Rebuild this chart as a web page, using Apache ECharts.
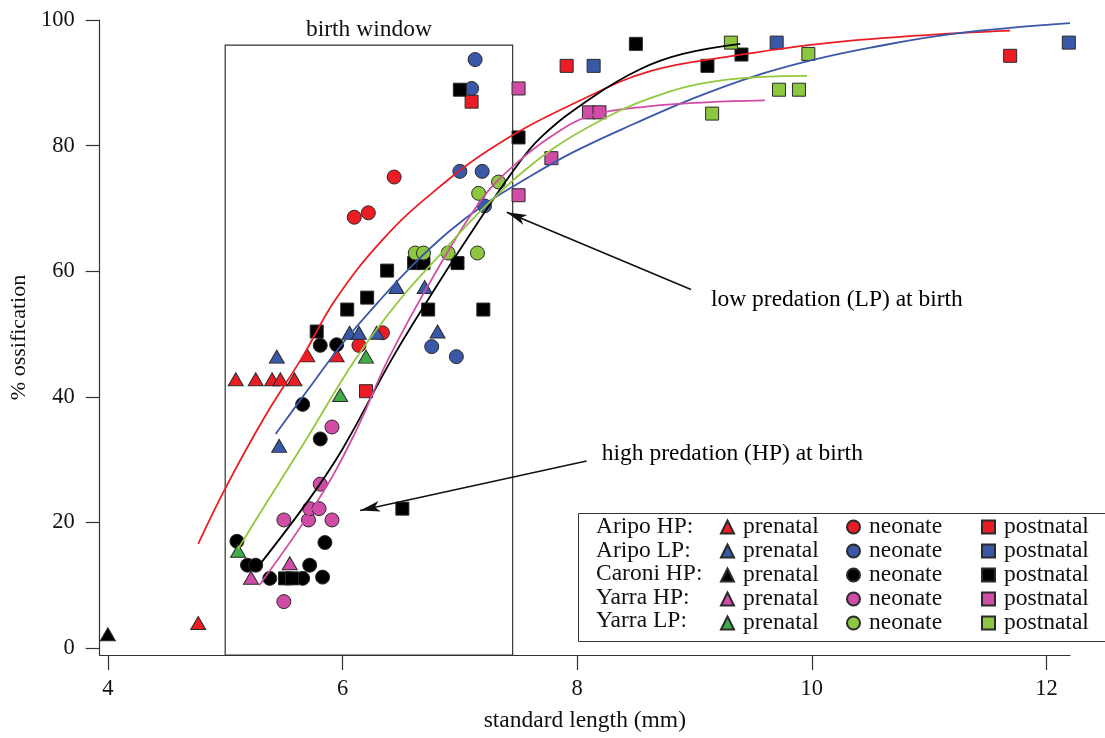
<!DOCTYPE html>
<html>
<head>
<meta charset="utf-8">
<script src="https://cdn.jsdelivr.net/npm/echarts@6/dist/echarts.min.js"></script>
<style>
  html, body { margin: 0; padding: 0; background: #fff; }
  #chart { width: 1105px; height: 738px; }
</style>
</head>
<body>
<div id="chart"></div>
<script>
// Axis tick labels
const xTicks = [4, 6, 8, 10, 12];
const yTicks = [0, 20, 40, 60, 80, 100];

// Observations: [standard length (mm), % ossification]
const aripoHP_prenatal  = [[5.09,42.8],[5.26,42.8],[5.40,42.8],[5.47,42.8],[5.59,42.8],[5.70,46.6],[5.95,46.6],[4.77,4.0]];
const aripoHP_neonate   = [[6.44,75.0],[6.10,68.6],[6.22,69.3],[6.34,50.2],[6.14,48.2]];
const aripoHP_postnatal = [[6.20,40.9],[7.10,87.0],[7.91,92.7],[11.69,94.3]];

const aripoLP_prenatal  = [[5.44,46.4],[5.46,32.2],[6.06,50.2],[6.14,50.2],[6.29,50.2],[6.46,57.5],[6.70,57.5],[6.81,50.4]];
const aripoLP_neonate   = [[6.76,48.0],[6.97,46.4],[7.00,75.9],[7.19,75.9],[7.21,70.4],[7.13,93.7],[7.10,89.1]];
const aripoLP_postnatal = [[8.14,92.7],[9.70,96.4],[12.19,96.4]];

const caroniHP_prenatal  = [[4.00,2.2]];
const caroniHP_neonate   = [[5.10,17.0],[5.19,13.2],[5.26,13.2],[5.38,11.1],[5.66,11.1],[5.72,13.2],[5.83,11.3],[5.85,16.8],[5.66,38.8],[5.81,33.3],[5.81,48.2],[5.95,48.3]];
const caroniHP_postnatal = [[5.51,11.1],[5.57,11.1],[5.78,50.4],[6.04,53.9],[6.21,55.8],[6.38,60.1],[6.61,61.3],[6.69,61.3],[6.98,61.3],[6.73,53.9],[7.20,53.9],[6.51,22.2],[7.00,88.9],[7.50,81.3],[8.50,96.2],[9.11,92.7],[9.40,94.5]];

const yarraHP_prenatal  = [[5.22,11.2],[5.55,13.5]];
const yarraHP_neonate   = [[5.50,20.4],[5.71,20.4],[5.72,22.2],[5.80,22.2],[5.91,20.4],[5.81,26.1],[5.91,35.2],[5.50,7.4]];
const yarraHP_postnatal = [[7.50,89.1],[7.50,72.1],[7.78,78.0],[8.10,85.3],[8.19,85.3]];

const yarraLP_prenatal  = [[5.11,15.5],[5.98,40.3],[6.20,46.4]];
const yarraLP_neonate   = [[6.62,62.9],[6.69,62.9],[6.90,62.9],[7.15,62.9],[7.16,72.4],[7.33,74.2]];
const yarraLP_postnatal = [[9.31,96.4],[9.97,94.6],[9.72,88.9],[9.89,88.9],[9.15,85.1]];

// Fitted growth curves
const aripoHP_curve  = [[4.77,16.6],[5.0,25.4],[5.34,36.9],[5.66,46.4],[5.94,55.5],[6.34,65.0],[6.76,72.4],[7.33,80.3],[8.06,87.5],[8.63,91.9],[9.3,94.2],[10.07,96.2],[10.9,97.5],[11.69,98.3]];
const aripoLP_curve  = [[5.43,34.1],[5.7,41.0],[6.0,48.5],[6.3,55.0],[6.6,61.0],[6.9,66.2],[7.2,70.5],[7.5,74.0],[7.95,78.8],[8.5,83.6],[9.0,87.6],[9.5,91.0],[10.0,93.6],[10.5,95.6],[11.2,97.8],[12.2,99.5]];
const caroniHP_curve = [[5.29,13.2],[5.72,23.8],[6.0,31.7],[6.42,46.0],[6.73,55.5],[7.07,65.4],[7.44,75.6],[7.69,81.3],[8.12,87.6],[8.54,92.2],[8.9,94.6],[9.39,96.2]];
const yarraHP_curve  = [[5.29,10.0],[5.80,23.8],[6.11,34.4],[6.39,46.0],[6.79,59.7],[7.18,71.3],[7.44,76.5],[7.78,81.5],[8.12,84.8],[8.63,86.3],[9.1,86.9],[9.6,87.2]];
const yarraLP_curve  = [[5.11,15.8],[5.32,22.2],[5.7,33.5],[6.11,46.0],[6.49,55.5],[6.85,63.0],[7.21,70.2],[7.69,78.1],[8.1,83.0],[8.63,87.6],[9.2,90.3],[9.96,91.1]];

const groups = [
  { label: 'Aripo HP:',  color: '#ec1c24', triColor: '#ec1c24', lineColor: '#ec1c24', pts: [aripoHP_prenatal, aripoHP_neonate, aripoHP_postnatal], curve: aripoHP_curve },
  { label: 'Aripo LP:',  color: '#3a58a8', triColor: '#3a58a8', lineColor: '#3a58a8', pts: [aripoLP_prenatal, aripoLP_neonate, aripoLP_postnatal], curve: aripoLP_curve },
  { label: 'Caroni HP:', color: '#000000', triColor: '#000000', lineColor: '#000000', pts: [caroniHP_prenatal, caroniHP_neonate, caroniHP_postnatal], curve: caroniHP_curve },
  { label: 'Yarra HP:',  color: '#d04ca6', triColor: '#d04ca6', lineColor: '#d04ca6', pts: [yarraHP_prenatal, yarraHP_neonate, yarraHP_postnatal], curve: yarraHP_curve },
  { label: 'Yarra LP:',  color: '#8dc63f', triColor: '#3fae49', lineColor: '#93c83e', pts: [yarraLP_prenatal, yarraLP_neonate, yarraLP_postnatal], curve: yarraLP_curve }
];
const stages = ['prenatal', 'neonate', 'postnatal'];
const stageSymbols = ['triangle', 'circle', 'rect'];
const stageSizes = [[15, 13], 14, 13];

// Caption positions for the two arrows, in data units
const notes = [
  { text: 'low predation (LP) at birth',  at: [9.14, 55.5], from: [8.97, 57.1], to: [7.40, 69.4] },
  { text: 'high predation (HP) at birth', at: [8.21, 30.9], from: [8.08, 29.8], to: [6.15, 21.9] }
];

const FONT = '"Liberation Serif", "DejaVu Serif", serif';
const INK = '#111';

const series = [];
const legendNames = [[], [], []];
groups.forEach(g => {
  g.pts.forEach((pts, si) => {
    const name = g.label.replace(':', '') + ' ' + stages[si];
    legendNames[si].push(name);
    series.push({
      name,
      type: 'scatter',
      data: pts,
      symbol: stageSymbols[si],
      symbolSize: stageSizes[si],
      z: 2,
      itemStyle: { color: si === 0 ? g.triColor : g.color, borderColor: '#2a2a2a', borderWidth: 1, opacity: 1 },
      emphasis: { disabled: true }
    });
  });
});
groups.forEach(g => {
  series.push({
    name: g.label + ' fit',
    type: 'line',
    data: g.curve,
    smooth: 0.4,
    showSymbol: false,
    z: 3,
    lineStyle: { color: g.lineColor, width: 1.8 },
    emphasis: { disabled: true },
    silent: true
  });
});

// Birth window box, arrows and their captions
series.push({
  name: 'notes',
  type: 'scatter',
  symbolSize: 0,
  z: 4,
  silent: true,
  itemStyle: { color: INK, opacity: 1 },
  data: notes.map(n => ({ name: n.text, value: n.at })),
  label: {
    show: true, position: 'right', distance: 0,
    formatter: p => p.name,
    fontFamily: FONT, fontSize: 23.5, color: '#000', opacity: 1, textBorderWidth: 0
  },
  markArea: {
    silent: true,
    itemStyle: { color: 'rgba(0,0,0,0)', borderColor: '#333', borderWidth: 1.2 },
    label: { show: true, position: 'top', distance: 3, formatter: 'birth window', fontFamily: FONT, fontSize: 23.5, color: INK },
    data: [[{ coord: [5.0, -1.1] }, { coord: [7.45, 96] }]]
  },
  markLine: {
    silent: true,
    symbol: ['none', 'arrow'],
    symbolSize: [8, 20],
    label: { show: false },
    lineStyle: { type: 'solid', color: '#111', width: 1.6 },
    data: notes.map(n => [{ coord: n.from }, { coord: n.to }])
  }
});

const tickText = { fontFamily: FONT, fontSize: 22.5, color: INK };
const nameText = { fontFamily: FONT, fontSize: 23.5, color: INK };
const axisLineStyle = { color: '#333', width: 1.2 };

const legendBase = {
  orient: 'vertical',
  top: 510,
  itemWidth: 13,
  itemHeight: 13,
  itemGap: 0,
  selectedMode: false,
  textStyle: { fontFamily: FONT, fontSize: 23.5, color: INK, lineHeight: 23.5, padding: [0, 0, 0, 4] }
};
const legendLeft = [715, 841, 976];

const chart = echarts.init(document.getElementById('chart'), null, { renderer: 'canvas' });
chart.setOption({
  animation: false,
  backgroundColor: '#fff',
  grid: { left: 97, top: 20, right: 35, bottom: 81 },
  xAxis: {
    type: 'value', min: 3.93, max: 12.2,
    name: 'standard length (mm)', nameLocation: 'middle', nameGap: 54,
    nameTextStyle: nameText,
    axisLine: { show: true, onZero: false, lineStyle: axisLineStyle },
    axisTick: { show: true, customValues: xTicks, length: 15, lineStyle: axisLineStyle },
    axisLabel: { customValues: xTicks, margin: 23, ...tickText },
    splitLine: { show: false }
  },
  yAxis: {
    type: 'value', min: -1.1, max: 100,
    name: '% ossification', nameLocation: 'middle', nameGap: 64,
    nameTextStyle: { ...nameText, fontSize: 22 },
    axisLine: { show: true, onZero: false, lineStyle: axisLineStyle },
    axisTick: { show: true, customValues: yTicks, length: 14, lineStyle: axisLineStyle },
    axisLabel: { customValues: yTicks, margin: 25, ...tickText },
    splitLine: { show: false }
  },
  legend: stages.map((st, si) => ({
    ...legendBase,
    left: legendLeft[si],
    data: legendNames[si].map(n => ({ name: n, icon: stageSymbols[si] })),
    formatter: () => st
  })),
  graphic: [
    { type: 'rect', shape: { x: 578.5, y: 513.5, width: 540, height: 128 }, style: { fill: 'none', stroke: '#333', lineWidth: 1 }, z: 0 },
    ...groups.map((g, i) => ({
      type: 'text', left: 596, top: 515 + i * 23.5,
      style: { text: g.label, font: '23.5px ' + FONT, fill: INK }
    }))
  ],
  series
});
</script>
</body>
</html>
